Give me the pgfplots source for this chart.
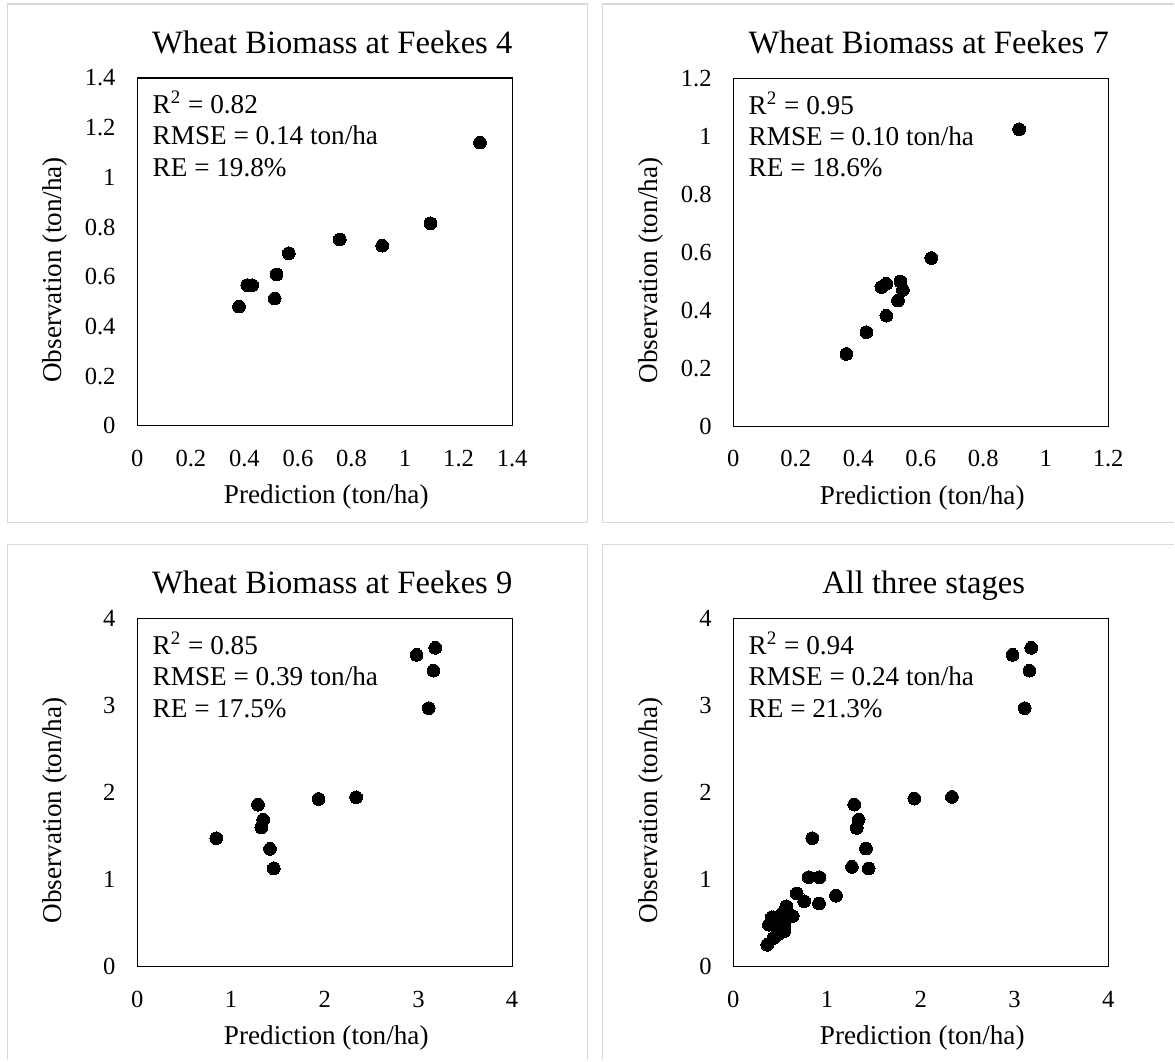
\documentclass[border=0pt]{standalone}
\usepackage{fontspec}
\setmainfont{Liberation Serif}
\usepackage{pgfplots}
\pgfplotsset{compat=1.18}

\definecolor{framegray}{RGB}{217,217,217}
\newcommand\titlefont{\fontsize{16.3}{19}\selectfont}
\newcommand\labfont{\fontsize{13.6}{16}\selectfont}
\newcommand\tickfont{\fontsize{12.3}{14}\selectfont}

\pgfplotsset{
  panel/.style={
    scale only axis, width=187.5pt, height=174pt,
    xmin=0, ymin=0,
    axis line style={black, line width=0.6pt},
    major tick length=0pt,
    /pgf/number format/assume math mode=true,
    tick label style={font=\tickfont, inner sep=0pt},
    xticklabel style={anchor=base, yshift=-20.25pt},
    yticklabel style={anchor=east, xshift=-10.7pt},
    clip=false,
  },
  dots/.style={only marks, mark=*, mark size=3.2pt,
    mark options={fill=black, draw=black, line width=0pt}},
}

% annotation, title and axis titles of one panel
\newcommand\panelText[5]{%
  \node[anchor=base, font=\titlefont, inner sep=0pt] at ([xshift=#5,yshift=12.4pt]rel axis cs:0.5,1) {#1};
  \node[anchor=base west, font=\labfont, inner sep=0pt] at ([xshift=7.5pt,yshift=-18pt]rel axis cs:0,1) {R\textsuperscript{2} = #2};
  \node[anchor=base west, font=\labfont, inner sep=0pt] at ([xshift=7.5pt,yshift=-33.4pt]rel axis cs:0,1) {RMSE = #3 ton/ha};
  \node[anchor=base west, font=\labfont, inner sep=0pt] at ([xshift=7.5pt,yshift=-49.2pt]rel axis cs:0,1) {RE = #4\%};
  \node[anchor=base, font=\labfont, inner sep=0pt] at ([xshift=0.75pt,yshift=-38.9pt]rel axis cs:0.5,0) {Prediction (ton/ha)};
  \node[anchor=base, rotate=90, font=\labfont, inner sep=0pt] at ([xshift=-38pt,yshift=-9pt]rel axis cs:0,0.5) {Observation (ton/ha)};
}

\begin{document}
\begin{tikzpicture}
\fill[white] (0,0) rectangle (587.5pt,530.5pt);
% chart area frames
\draw[framegray, line width=0.6pt] (3.75pt,269pt) rectangle (294pt,528.5pt);
\draw[framegray, line width=0.6pt] (587.5pt,528.5pt) -- (301.5pt,528.5pt) -- (301.5pt,269pt) -- (587.5pt,269pt);
\draw[framegray, line width=0.6pt] (3.75pt,0pt) -- (3.75pt,258pt) -- (294pt,258pt) -- (294pt,0pt);
\draw[framegray, line width=0.6pt] (301.5pt,0pt) -- (301.5pt,258pt) -- (587.5pt,258pt);

% Feekes 4
\begin{axis}[panel, at={(68.7pt,317.5pt)}, anchor=south west,
  xmax=1.4, ymax=1.4,
  xtick={0,0.2,0.4,0.6,0.8,1,1.2,1.4}, ytick={0,0.2,0.4,0.6,0.8,1,1.2,1.4}]
\addplot[dots] coordinates {
  (0.380,0.480) (0.411,0.566) (0.429,0.566) (0.513,0.512) (0.520,0.609)
  (0.566,0.694) (0.756,0.750) (0.915,0.725) (1.095,0.815) (1.280,1.140)};
\panelText{Wheat Biomass at Feekes 4}{0.82}{0.14}{19.8}{3.75pt}
\end{axis}

% Feekes 7
\begin{axis}[panel, at={(366.85pt,317.2pt)}, anchor=south west,
  xmax=1.2, ymax=1.2,
  xtick={0,0.2,0.4,0.6,0.8,1,1.2}, ytick={0,0.2,0.4,0.6,0.8,1,1.2}]
\addplot[dots] coordinates {
  (0.362,0.250) (0.426,0.325) (0.490,0.382) (0.474,0.481) (0.490,0.492)
  (0.535,0.500) (0.543,0.471) (0.527,0.434) (0.634,0.581) (0.915,1.025)};
\panelText{Wheat Biomass at Feekes 7}{0.95}{0.10}{18.6}{4pt}
\end{axis}

% Feekes 9
\begin{axis}[panel, at={(68.7pt,47pt)}, anchor=south west,
  xmax=4, ymax=4, xtick={0,1,2,3,4}, ytick={0,1,2,3,4}]
\addplot[dots] coordinates {
  (0.843,1.476) (1.288,1.861) (1.344,1.688) (1.324,1.599) (1.416,1.353)
  (1.456,1.129) (1.934,1.927) (2.335,1.946) (2.980,3.584) (3.180,3.665)
  (3.160,3.403) (3.110,2.971)};
\panelText{Wheat Biomass at Feekes 9}{0.85}{0.39}{17.5}{3.75pt}
\end{axis}

% all three stages
\begin{axis}[panel, at={(366.85pt,47pt)}, anchor=south west,
  xmax=4, ymax=4, xtick={0,1,2,3,4}, ytick={0,1,2,3,4}]
\addplot[dots] coordinates {
  (0.380,0.480) (0.411,0.566) (0.429,0.566) (0.513,0.512) (0.520,0.609)
  (0.566,0.694) (0.756,0.750) (0.915,0.725) (1.095,0.815) (1.266,1.146)
  (0.362,0.250) (0.426,0.325) (0.490,0.382) (0.474,0.481) (0.490,0.492)
  (0.535,0.500) (0.543,0.471) (0.527,0.434) (0.634,0.581) (0.918,1.027)
  (0.804,1.027) (0.676,0.840) (0.455,0.350) (0.490,0.541) (0.544,0.407)
  (0.843,1.476) (1.291,1.862) (1.337,1.690) (1.316,1.594) (1.415,1.357)
  (1.444,1.127) (1.932,1.931) (2.333,1.950) (2.980,3.584) (3.180,3.665)
  (3.160,3.403) (3.110,2.971)};
\panelText{All three stages}{0.94}{0.24}{21.3}{1.5pt}
\end{axis}
\end{tikzpicture}
\end{document}
